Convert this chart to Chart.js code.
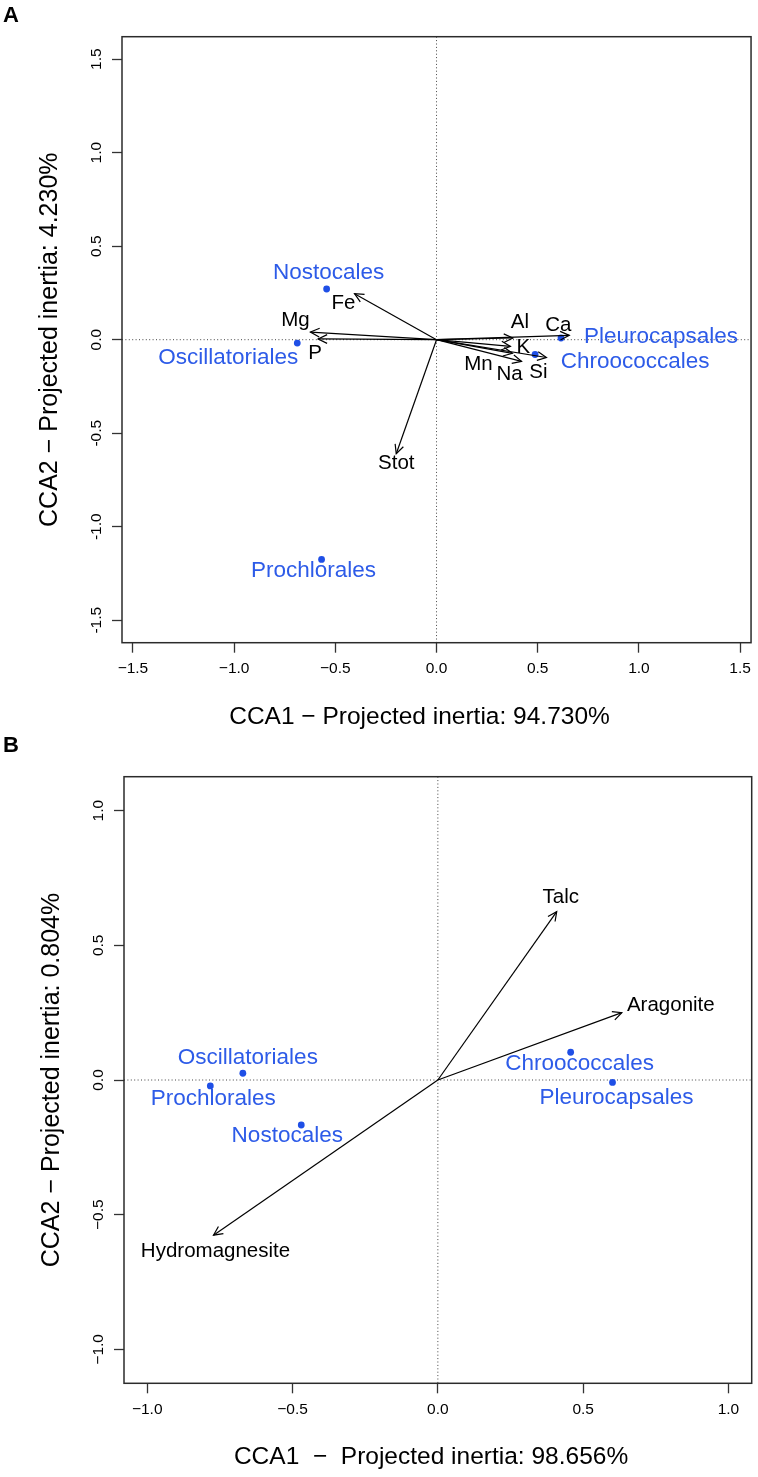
<!DOCTYPE html>
<html lang="en">
<head>
<meta charset="UTF-8">
<title>CCA biplots</title>
<script src="https://cdn.jsdelivr.net/npm/chart.js"></script>
<style>
  body { margin: 0; background: #fff; width: 758px; height: 1477px; position: relative; overflow: hidden;
         font-family: "Liberation Sans", Arial, sans-serif; }
  canvas { position: absolute; left: 0; }
  .panel { position: absolute; left: 3px; font-weight: bold; font-size: 22px; line-height: 22px; }
</style>
</head>
<body>
<canvas id="ccaA" width="758" height="738" style="top:0"></canvas>
<canvas id="ccaB" width="758" height="739" style="top:738px"></canvas>
<div class="panel" style="top:4px">A</div>
<div class="panel" style="top:734px">B</div>

<script>
// ---- panel A: elements ----
const envA = ['Fe', 'Mg', 'P', 'Stot', 'Al', 'Ca', 'K', 'Mn', 'Na', 'Si'];
const envAX = [-0.405, -0.623, -0.585, -0.199, 0.377, 0.656, 0.365, 0.375, 0.420, 0.543];
const envAY = [0.246, 0.041, 0.004, -0.610, 0.009, 0.023, -0.036, -0.073, -0.116, -0.095];

const taxaA = ['Nostocales', 'Oscillatoriales', 'Prochlorales', 'Pleurocapsales', 'Chroococcales'];
const taxaAX = [-0.543, -0.688, -0.568, 0.615, 0.487];
const taxaAY = [0.271, -0.018, -1.175, 0.009, -0.079];

// ---- panel B: minerals ----
const envB = ['Talc', 'Aragonite', 'Hydromagnesite'];
const envBX = [0.409, 0.633, -0.772];
const envBY = [0.625, 0.250, -0.576];

const taxaB = ['Oscillatoriales', 'Prochlorales', 'Nostocales', 'Chroococcales', 'Pleurocapsales'];
const taxaBX = [-0.671, -0.783, -0.470, 0.457, 0.601];
const taxaBY = [0.025, -0.022, -0.167, 0.103, -0.009];

// label placement (pixel offsets from the mark)
const envAOffsets = [[-11, 10], [-15, -12], [-3, 14], [0, 10], [7, -16], [-11, -10], [13, 1], [-34, 11], [-12, 13], [-8, 15]];
const taxaAOffsets = [[2, -16], [-69, 15], [-8, 11], [100, -1], [100, 7]];
const envBOffsets = [[4, -14], [49, -7], [2, 16]];
const taxaBOffsets = [[5, -15], [3, 13], [-14, 11], [9, 12], [4, 15]];

const FONT = '"Liberation Sans", Arial, sans-serif';
const BLUE_TXT = '#2d5be8';
const BLUE_PT = '#1f4fe6';

const biplot = {
  id: 'biplot',
  beforeDatasetsDraw(chart) {
    const {ctx, chartArea: a, scales: {x, y}} = chart;
    const x0 = x.getPixelForValue(0), y0 = y.getPixelForValue(0);
    ctx.save();
    ctx.strokeStyle = '#444';
    ctx.lineWidth = 1;
    ctx.setLineDash([1, 2.4]);
    ctx.beginPath();
    ctx.moveTo(a.left, y0); ctx.lineTo(a.right, y0);
    ctx.moveTo(x0, a.top); ctx.lineTo(x0, a.bottom);
    ctx.stroke();
    ctx.restore();
  },
  afterDatasetsDraw(chart) {
    const {ctx, chartArea: a} = chart;
    ctx.save();
    chart.data.datasets.forEach((ds, i) => {
      const pts = chart.getDatasetMeta(i).data;
      if (ds.kind === 'arrow') {
        const p0 = pts[0], p1 = pts[1];
        const ang = Math.atan2(p1.y - p0.y, p1.x - p0.x), len = 10, w = 0.45;
        ctx.strokeStyle = '#000';
        ctx.lineWidth = 1.2;
        ctx.beginPath();
        ctx.moveTo(p1.x - len * Math.cos(ang - w), p1.y - len * Math.sin(ang - w));
        ctx.lineTo(p1.x, p1.y);
        ctx.lineTo(p1.x - len * Math.cos(ang + w), p1.y - len * Math.sin(ang + w));
        ctx.stroke();
        ctx.fillStyle = '#000';
        ctx.font = '20.5px ' + FONT;
        ctx.textAlign = 'center';
        ctx.textBaseline = 'middle';
        ctx.fillText(ds.label, p1.x + ds.offset[0], p1.y + ds.offset[1]);
      } else if (ds.kind === 'taxa') {
        ctx.fillStyle = BLUE_TXT;
        ctx.font = '22.5px ' + FONT;
        ctx.textAlign = 'center';
        ctx.textBaseline = 'middle';
        pts.forEach((p, j) => {
          ctx.fillText(ds.names[j], p.x + ds.offsets[j][0], p.y + ds.offsets[j][1]);
        });
      }
    });
    ctx.strokeStyle = '#2b2b2b';
    ctx.lineWidth = 1.5;
    ctx.setLineDash([]);
    ctx.strokeRect(a.left, a.top, a.right - a.left, a.bottom - a.top);
    ctx.restore();
  }
};

function fmt(minus) {
  return v => (v < 0 ? minus : '') + Math.abs(v).toFixed(1);
}

function axis(range, fitSize, isX, title, titleSize, minus, pad) {
  const s = {
    type: 'linear',
    min: -range, max: range,
    border: {display: false},
    grid: {drawOnChartArea: false, drawTicks: true, tickLength: 10, tickColor: '#333', tickWidth: 1.3, color: '#333'},
    ticks: {stepSize: 0.5, includeBounds: false, autoSkip: false, padding: pad, color: '#000',
            font: {size: 15.5, family: FONT}, callback: fmt(minus)},
    title: {display: true, text: title, color: '#000', padding: 0, font: {size: titleSize, family: FONT}}
  };
  if (isX) {
    s.ticks.maxRotation = 0;
    s.afterFit = sc => { sc.height = fitSize; };
  } else {
    s.ticks.minRotation = 90;
    s.ticks.maxRotation = 90;
    s.ticks.crossAlign = 'center';
    s.afterFit = sc => { sc.width = fitSize; };
  }
  return s;
}

function makeBiplot(id, p) {
  const datasets = p.env.map((name, i) => ({
    kind: 'arrow', label: name, offset: p.envOff[i],
    showLine: true, borderColor: '#000', borderWidth: 1.2, pointRadius: 0,
    data: [{x: 0, y: 0}, {x: p.envX[i], y: p.envY[i]}]
  }));
  datasets.push({
    kind: 'taxa', label: 'taxa', names: p.taxa, offsets: p.taxaOff,
    pointRadius: 3.4, backgroundColor: BLUE_PT, borderWidth: 0,
    data: p.taxaX.map((x, i) => ({x, y: p.taxaY[i]}))
  });
  return new Chart(document.getElementById(id), {
    type: 'scatter',
    data: {datasets},
    plugins: [biplot],
    options: {
      responsive: false,
      animation: false,
      devicePixelRatio: 1,
      events: [],
      layout: {padding: p.padding},
      plugins: {legend: {display: false}, tooltip: {enabled: false}},
      scales: {
        x: axis(p.xRange, p.xFit, true, p.xTitle, p.xTitleSize, '\u2212', 7),
        y: axis(p.yRange, p.yFit, false, p.yTitle, 25, p.yMinus, p.yPad)
      }
    }
  });
}

// trailing spaces nudge the centred x titles left, as in the original figure
makeBiplot('ccaA', {
  env: envA, envX: envAX, envY: envAY, envOff: envAOffsets,
  taxa: taxaA, taxaX: taxaAX, taxaY: taxaAY, taxaOff: taxaAOffsets,
  xRange: 1.554, yRange: 1.62,
  xTitle: 'CCA1 \u2212 Projected inertia: 94.730%     ', xTitleSize: 24.5,
  yTitle: 'CCA2 \u2212 Projected inertia: 4.230%', yMinus: '-', yPad: 2,
  xFit: 89.7, yFit: 86.4,
  padding: {left: 35.6, top: 36.7, right: 6.3, bottom: 5.6}
});

makeBiplot('ccaB', {
  env: envB, envX: envBX, envY: envBY, envOff: envBOffsets,
  taxa: taxaB, taxaX: taxaBX, taxaY: taxaBY, taxaOff: taxaBOffsets,
  xRange: 1.08, yRange: 1.126,
  xTitle: 'CCA1  \u2212  Projected inertia: 98.656%  ', xTitleSize: 24.5,
  yTitle: 'CCA2 \u2212 Projected inertia: 0.804%', yMinus: '\u2212', yPad: 0,
  xFit: 89.1, yFit: 86.4,
  padding: {left: 37.6, top: 38.7, right: 6.3, bottom: 4.6}
});
</script>
</body>
</html>
